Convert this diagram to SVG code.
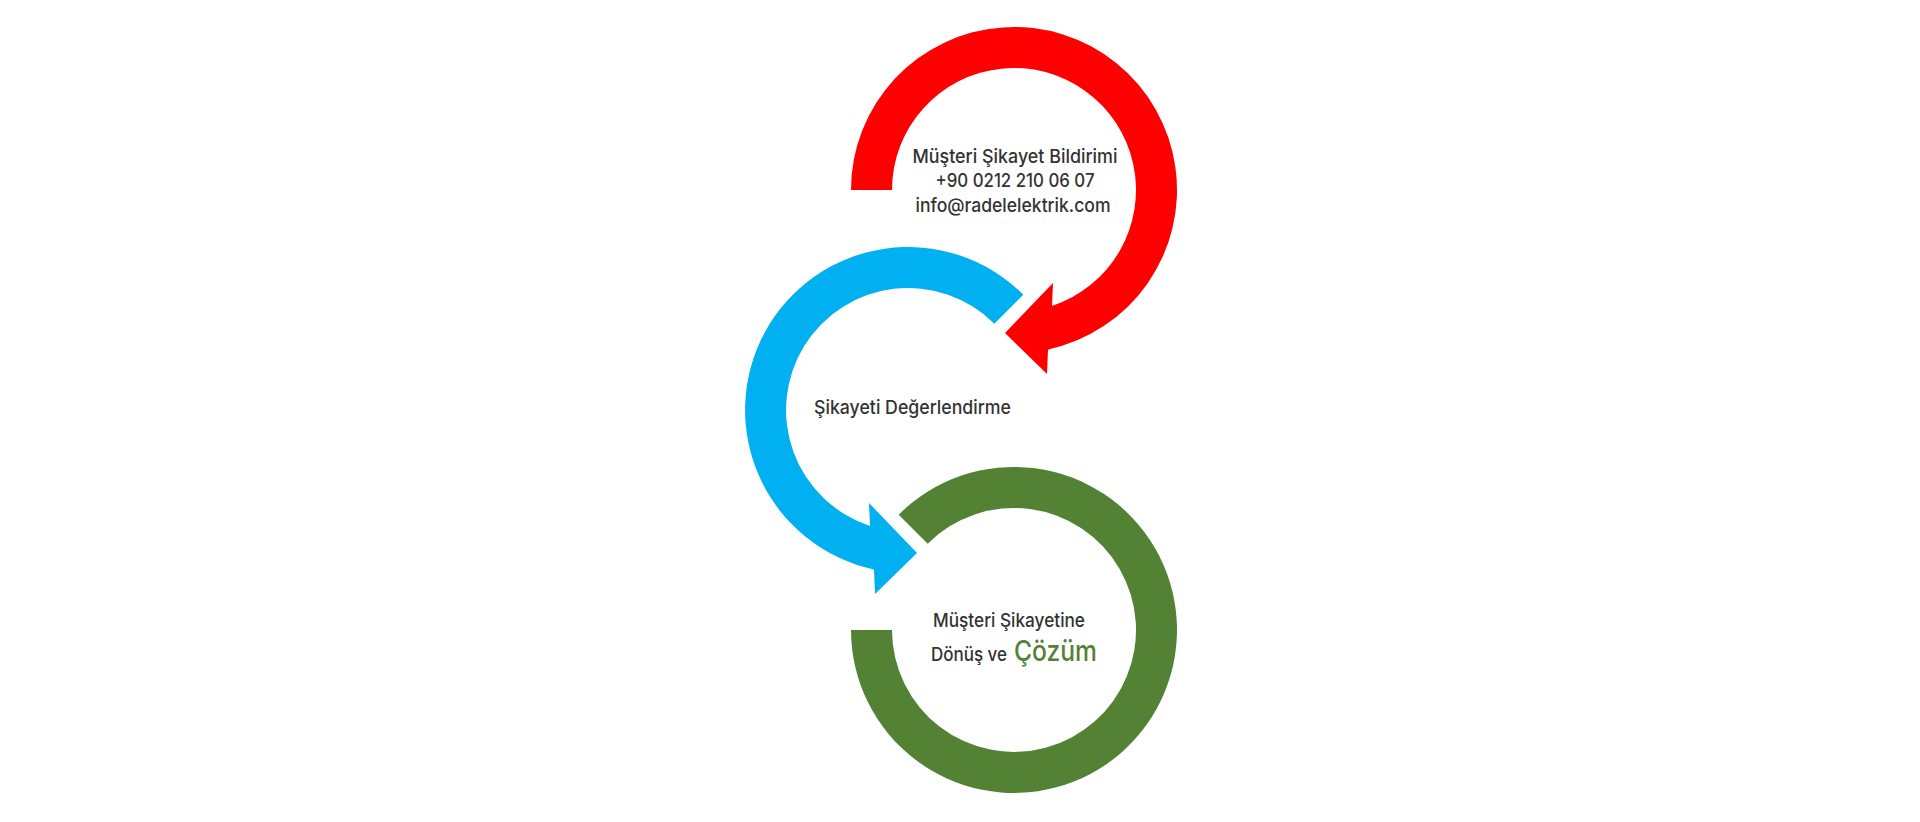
<svg xmlns="http://www.w3.org/2000/svg" width="1920" height="822" viewBox="0 0 1920 822">
<style>
.t{font-family:"Inter","Roboto","DejaVu Sans Condensed",sans-serif;font-weight:500;font-size:19px;fill:#333333;text-anchor:middle}
.red{fill:#FF0000}
.blue{fill:#00B0F0}
.green{fill:#548235}
</style>
<rect width="1920" height="822" fill="#FFFFFF"/>
<g id="node-bildirim">
<path class="red" d="M851,190 A163,163 0 1 1 1048,349.4 L1052,305.9 A122,122 0 1 0 892,190 Z"/>
<text class="t" x="1015" y="163" textLength="205" lengthAdjust="spacingAndGlyphs">Müşteri Şikayet Bildirimi</text>
<text class="t" x="1015" y="187" textLength="159" lengthAdjust="spacingAndGlyphs">+90 0212 210 06 07</text>
<text class="t" x="1013" y="212" textLength="195" lengthAdjust="spacingAndGlyphs">info@radelelektrik.com</text>
</g>
<g id="node-degerlendirme">
<path class="blue" d="M1023.3,294.7 A163,163 0 1 0 874,569.4 L870,525.9 A122,122 0 1 1 994.3,323.7 Z"/>
<text class="t" x="912.5" y="414" textLength="197" lengthAdjust="spacingAndGlyphs">Şikayeti Değerlendirme</text>
</g>
<g id="node-cozum">
<path class="green" d="M898.7,514.7 A163,163 0 1 1 851,630 L892,630 A122,122 0 1 0 927.7,543.7 Z"/>
<text class="t" x="1009" y="627" textLength="152" lengthAdjust="spacingAndGlyphs">Müşteri Şikayetine</text>
<text class="t" x="969" y="661" textLength="76" lengthAdjust="spacingAndGlyphs">Dönüş ve</text>
<text class="t green" x="1055.5" y="661" style="font-size:28px" textLength="83" lengthAdjust="spacingAndGlyphs">Çözüm</text>
</g>
<g id="connectors">
<polygon class="red" points="1051,348.5 1048,349.4 1047,374 1005,333 1053,283 1052,305.9 1055,305.5"/>
<polygon class="blue" points="871,568.5 874,569.4 875,594 917,553 869,503 870,525.9 867,525.5"/>
</g>
</svg>
